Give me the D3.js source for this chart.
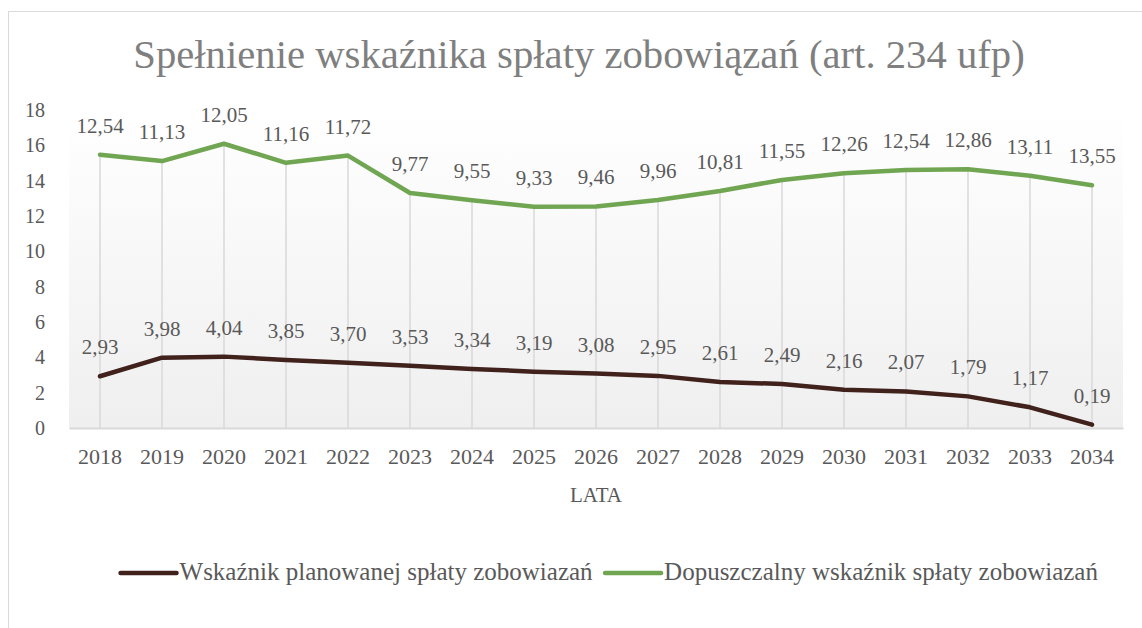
<!DOCTYPE html>
<html><head><meta charset="utf-8"><script src="https://cdn.jsdelivr.net/npm/d3@7"></script></head>
<body style="margin:0">
<svg id="chart" width="1142" height="628"></svg>
<script>
// ---- data ----
const years = ["2018","2019","2020","2021","2022","2023","2024","2025","2026","2027","2028","2029","2030","2031","2032","2033","2034"];
const planned = [2.93, 3.98, 4.04, 3.85, 3.70, 3.53, 3.34, 3.19, 3.08, 2.95, 2.61, 2.49, 2.16, 2.07, 1.79, 1.17, 0.19];
const allowed = [12.54, 11.13, 12.05, 11.16, 11.72, 9.77, 9.55, 9.33, 9.46, 9.96, 10.81, 11.55, 12.26, 12.54, 12.86, 13.11, 13.55];
const yTicks = [0, 2, 4, 6, 8, 10, 12, 14, 16, 18];
const seriesNames = ["Wskaźnik planowanej spłaty zobowiazań", "Dopuszczalny wskaźnik spłaty zobowiazań"];
const titleText = "Spełnienie wskaźnika spłaty zobowiązań (art. 234 ufp)";
const xTitle = "LATA";

// ---- layout ----
const FONT = '"Liberation Serif"';
const colors = ["#40211b", "#70a552"];
const textColor = "#595959";
const plot = { left: 69, right: 1123, top: 110, bottom: 428 };
const fmt = v => v.toFixed(2).replace(".", ",");

const svg = d3.select("#chart");

function fitWidth(sel, baseSize, target, maxSize) {
  sel.attr("font-size", baseSize);
  const w = sel.node().getComputedTextLength();
  const s = Math.round(Math.min(maxSize, baseSize * target / w) * 10) / 10;
  sel.attr("font-size", s);
  return s;
}

// border
svg.append("rect").attr("x", 8.5).attr("y", 11.5).attr("width", 1200).attr("height", 700)
  .attr("fill", "#ffffff").attr("stroke", "#d9d9d9").attr("stroke-width", 1);

// gradient background
const defs = svg.append("defs");
const grad = defs.append("linearGradient").attr("id", "bg").attr("x1", 0).attr("y1", 0).attr("x2", 0).attr("y2", 1);
grad.append("stop").attr("offset", "0%").attr("stop-color", "#ffffff");
grad.append("stop").attr("offset", "100%").attr("stop-color", "#efefef");
svg.append("rect").attr("x", plot.left).attr("y", plot.top)
  .attr("width", plot.right - plot.left).attr("height", plot.bottom - plot.top)
  .attr("fill", "url(#bg)");

// scales
const x = d3.scaleBand().domain(years).range([plot.left, plot.right]).padding(0);
const cx = d => x(d) + x.bandwidth() / 2;
const y = d3.scaleLinear().domain([0, 18]).range([plot.bottom, plot.top]);

// stacked data
const table = years.map((yr, i) => ({ year: yr, planned: planned[i], allowed: allowed[i] }));
const stacked = d3.stack().keys(["planned", "allowed"])(table);

// drop lines
svg.append("g").selectAll("line").data(stacked[1]).join("line")
  .attr("x1", d => cx(d.data.year)).attr("x2", d => cx(d.data.year))
  .attr("y1", d => y(d[1])).attr("y2", plot.bottom)
  .attr("stroke", "#d9d9d9").attr("stroke-width", 1.5);

// x axis
const xAxis = svg.append("g").attr("transform", `translate(0,${plot.bottom})`)
  .call(d3.axisBottom(x).tickSize(0).tickPadding(20));
xAxis.attr("font-family", null).attr("font-size", null);
xAxis.select(".domain").attr("stroke", "#d9d9d9").attr("stroke-width", 2);
xAxis.selectAll("text").attr("fill", textColor).attr("font-size", 22)
  .style("font-family", FONT);

// y axis
const yAxis = svg.append("g").attr("transform", `translate(${plot.left},0)`)
  .call(d3.axisLeft(y).tickValues(yTicks).tickSize(0).tickPadding(24).tickFormat(d3.format("d")));
yAxis.attr("font-family", null).attr("font-size", null);
yAxis.select(".domain").remove();
yAxis.selectAll("text").attr("fill", textColor).attr("font-size", 20)
  .style("font-family", FONT);

// lines
const line = d3.line().x(d => cx(d.data.year)).y(d => y(d[1]));
svg.append("g").selectAll("path").data(stacked).join("path")
  .attr("d", line)
  .attr("fill", "none")
  .attr("stroke", (d, i) => colors[i])
  .attr("stroke-width", 4.5)
  .attr("stroke-linejoin", "round")
  .attr("stroke-linecap", "round");

// data labels
stacked.forEach(s => {
  svg.selectAll(null).data(s).join("text")
    .attr("x", d => cx(d.data.year))
    .attr("y", d => y(d[1]) - 22)
    .attr("text-anchor", "middle")
    .attr("fill", textColor)
    .attr("font-size", 21)
    .style("font-family", FONT)
    .text(d => fmt(d.data[s.key]));
});

// title
const title = svg.append("text").attr("x", 579).attr("y", 68).attr("text-anchor", "middle")
  .attr("fill", "#7f7f7f").style("font-family", FONT).text(titleText);
fitWidth(title, 40, 892, 46);

// x axis title
svg.append("text").attr("x", (plot.left + plot.right) / 2).attr("y", 502).attr("text-anchor", "middle")
  .attr("fill", textColor).attr("font-size", 21).style("font-family", FONT).text(xTitle);

// legend
const legY = 573;
const items = svg.selectAll(null).data(seriesNames).join("g");
items.append("line").attr("x1", 0).attr("x2", 56).attr("y1", legY).attr("y2", legY)
  .attr("stroke", (d, i) => colors[i]).attr("stroke-width", 4.5).attr("stroke-linecap", "round");
const legText = items.append("text").attr("x", 59).attr("y", legY + 7).attr("fill", textColor)
  .style("font-family", FONT).text(d => d);
const first = legText.filter((d, i) => i === 0);
const ls = fitWidth(first, 22, 425, 25);
legText.attr("font-size", ls);
let widths = [];
items.each(function () { widths.push(this.getBBox().width); });
const gap = 12;
const total = d3.sum(widths) + gap * (widths.length - 1);
const start = 609.5 - total / 2;
items.attr("transform", (d, i) => `translate(${start + d3.sum(widths.slice(0, i)) + gap * i},0)`);
</script>
</body></html>
